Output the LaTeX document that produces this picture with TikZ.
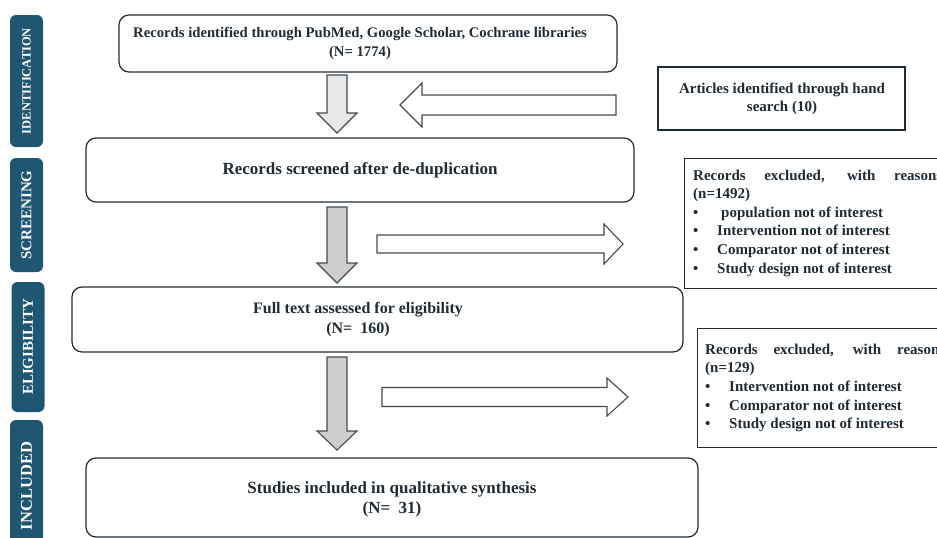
\documentclass[tikz,border=0pt]{standalone}
\usepackage{fontspec}
\setmainfont{Liberation Serif}
\usetikzlibrary{positioning}
\definecolor{phase}{RGB}{31,86,114}
\definecolor{ink}{RGB}{32,43,52}
\definecolor{paleArrow}{RGB}{232,232,232}
\definecolor{greyArrow}{RGB}{206,206,206}
% block arrow pointing down: x, top, head base, tip, fill
\newcommand\downblock[5]{\draw[blockarrow, fill=#5] (#1-10,#2) -- (#1+10,#2) -- (#1+10,#3) -- (#1+20,#3) -- (#1,#4) -- (#1-20,#3) -- (#1-10,#3) -- cycle;}
% block arrow sideways: tail x, mid y, head base x, tip x, half shaft, half head
\newcommand\sideblock[6]{\draw[blockarrow, fill=white] (#1,#2-#5) -- (#3,#2-#5) -- (#3,#2-#6) -- (#4,#2) -- (#3,#2+#6) -- (#3,#2+#5) -- (#1,#2+#5) -- cycle;}
\newcommand\bul{\makebox[24pt][l]{\textbullet}}
\newcommand\pt[1]{\fontsize{#1}{1.25\dimexpr#1pt\relax}\selectfont\bfseries}

\tikzset{
  phasebox/.style={fill=phase, rounded corners=6pt, rotate=90, minimum height=33pt, inner sep=0pt, text=white},
  flowbox/.style={draw=ink, line width=1.2pt, rounded corners=10pt, inner sep=0pt},
  sidebox/.style={draw=ink, line width=1.2pt, inner sep=0pt},
  boxtext/.style={text=ink, align=center, inner sep=0pt, font=\fontsize{16}{20}\selectfont\bfseries},
  listtext/.style={text=ink, align=left, anchor=west, inner sep=0pt, font=\fontsize{15}{18.6}\selectfont\bfseries},
  blockarrow/.style={draw=ink!85, line width=1.1pt, line join=miter}
}

\begin{document}
\begin{tikzpicture}[x=1pt, y=-1pt]
\useasboundingbox (0,0) rectangle (937,538);
\clip (0,0) rectangle (937,538);

% phases down the left side
\node[phasebox, minimum width=132pt, font=\pt{12.5}] (identification) at (26.5,81) {IDENTIFICATION};
\node[phasebox, minimum width=114pt, font=\pt{15}] (screening) at (26.5,215) {SCREENING};
\node[phasebox, minimum width=130pt, font=\pt{15}] (eligibility) at (28,347) {ELIGIBILITY};
\node[phasebox, minimum width=132pt, font=\pt{16.5}] (included) at (26.5,486) {INCLUDED};

% main column
\node[flowbox, minimum width=498pt, minimum height=57pt] (records) at (368,43.5) {};
\node[boxtext, font=\fontsize{14.7}{19}\selectfont\bfseries] (recordstext) at (360,43) {Records identified through PubMed, Google Scholar, Cochrane libraries\\(N= 1774)};

\node[flowbox, minimum width=548pt, minimum height=64pt] (screened) at (360,170) {};
\node[boxtext, font=\fontsize{17}{20}\selectfont\bfseries] (screenedtext) at (360,170) {Records screened after de-duplication};

\node[flowbox, minimum width=611pt, minimum height=65pt] (fulltext) at (377.5,319.5) {};
\node[boxtext] (fulltexttext) at (358,320) {Full text assessed for eligibility\\(N=\ \ 160)};

\node[flowbox, minimum width=612pt, minimum height=79pt] (studies) at (392,497.5) {};
\node[boxtext, font=\fontsize{17}{20}\selectfont\bfseries] (studiestext) at (392,499) {Studies included in qualitative synthesis\\(N=\ \ 31)};

% right column
\node[sidebox, minimum width=247pt, minimum height=63pt] (hand) at (781.5,98.5) {};
\node[boxtext, font=\fontsize{15}{18}\selectfont\bfseries] (handtext) at (782,99) {Articles identified through hand\\search (10)};

\node[sidebox, minimum width=280pt, minimum height=130pt, anchor=north west] (excludedA) at (684,158) {};
\node[listtext] (excludedAtext) at (693,223) {\makebox[249pt][s]{Records excluded, with reasons}\\(n=1492)\\\bul\hspace{4pt}population not of interest\\\bul Intervention not of interest\\\bul Comparator not of interest\\\bul Study design not of interest};

\node[sidebox, minimum width=270pt, minimum height=119pt, anchor=north west] (excludedB) at (697,328) {};
\node[listtext] (excludedBtext) at (705,388) {\makebox[240pt][s]{Records excluded, with reasons}\\(n=129)\\\bul Intervention not of interest\\\bul Comparator not of interest\\\bul Study design not of interest};

% block arrows
\downblock{337}{75}{113}{133}{paleArrow}
\sideblock{616}{105}{422}{400}{10}{22}
\downblock{337}{207}{263}{283}{greyArrow}
\sideblock{377}{244}{604}{623}{9}{20}
\downblock{337}{357}{431}{450}{greyArrow}
\sideblock{382}{397}{607}{628}{9.5}{19}
\end{tikzpicture}
\end{document}
